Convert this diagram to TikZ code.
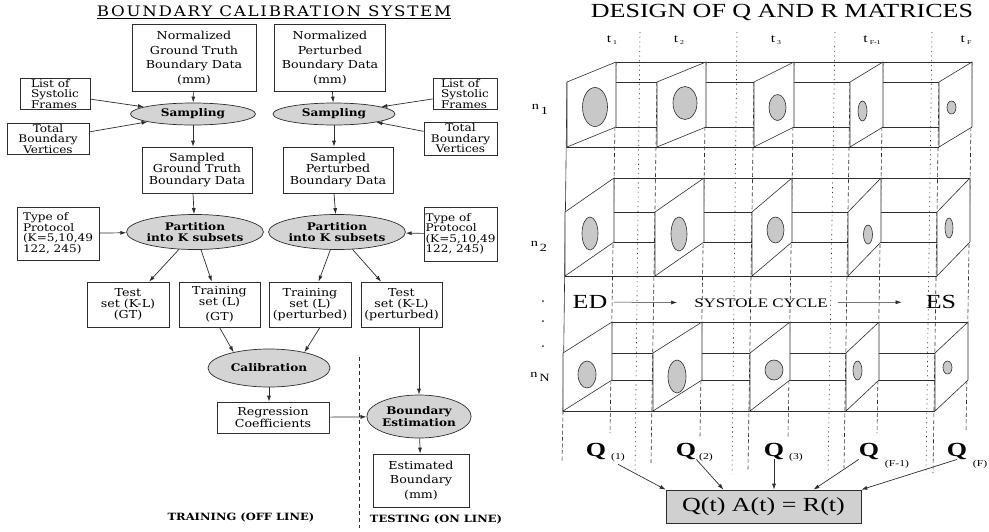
\documentclass[tikz,border=0pt]{standalone}
\usepackage{fontspec}
\usepackage{xcolor}
\usetikzlibrary{shapes.geometric,arrows.meta}
\newfontfamily\calfont[FakeStretch=1.15]{DejaVu Serif}
\newfontfamily\matfont[FakeStretch=1.3]{Liberation Serif}
\definecolor{inkGray}{RGB}{45,45,45}
\definecolor{ovalGray}{RGB}{212,212,212}
\definecolor{blobGray}{RGB}{200,200,200}
\definecolor{eqGray}{RGB}{208,208,208}
\tikzset{
  databox/.style={draw=inkGray, line width=0.7pt, fill=white, align=center, inner sep=1pt,
    font=\calfont\fontsize{11}{11.2}\selectfont},
  tallbox/.style={databox, font=\calfont\fontsize{11}{14.5}\selectfont},
  sidebox/.style={databox, align=left, font=\calfont\fontsize{10.5}{10.5}\selectfont},
  procoval/.style={ellipse, draw=inkGray, line width=0.7pt, fill=ovalGray, align=center, inner sep=0pt,
    font=\calfont\bfseries\fontsize{10.5}{11.5}\selectfont},
  flow/.style={->, line width=0.7pt, draw=inkGray},
  slab/.style={draw=inkGray, line width=0.6pt},
  depthline/.style={draw=inkGray, line width=0.6pt, dash pattern=on 4pt off 2.5pt},
  sepline/.style={draw=inkGray, line width=0.6pt, dash pattern=on 1.2pt off 3.5pt},
  blob/.style={draw=inkGray, line width=0.6pt, fill=blobGray},
  matlabel/.style={inner sep=0pt, font=\matfont\fontsize{12}{12}\selectfont},
  qlabel/.style={inner sep=0pt, font=\matfont\bfseries\fontsize{20}{20}\selectfont},
  qsub/.style={inner sep=0pt, font=\matfont\fontsize{9}{9}\selectfont},
}

\begin{document}
\begin{tikzpicture}[x=1pt, y=-1pt, >={Latex[length=6pt,width=4pt]}]
\useasboundingbox (0,0) rectangle (989,531);

% ---- boundary calibration system ----
\node[inner sep=0pt, font=\calfont\addfontfeatures{LetterSpace=12}\fontsize{14.5}{14.5}\selectfont] (caltitle) at (274,12) {\underline{BOUNDARY CALIBRATION SYSTEM}};

\node[tallbox, minimum width=124pt, minimum height=67pt] (normgt) at (194,58) {Normalized\\Ground Truth\\Boundary Data\\(mm)};
\node[tallbox, minimum width=111pt, minimum height=67pt] (normpt) at (330,58) {Normalized\\Perturbed\\Boundary Data\\(mm)};
\node[procoval, minimum width=125pt, minimum height=22pt] (sampgt) at (193,114) {Sampling};
\node[procoval, minimum width=122pt, minimum height=22pt] (samppt) at (334,114) {Sampling};
\node[sidebox, minimum width=70pt, minimum height=31pt] (framesgt) at (55,94) {List of\\Systolic\\Frames};
\node[sidebox, align=center, minimum width=82pt, minimum height=31pt] (vertsgt) at (48,139) {Total\\Boundary\\Vertices};
\node[sidebox, minimum width=64pt, minimum height=31pt] (framespt) at (465,94) {List of\\Systolic\\Frames};
\node[sidebox, align=center, minimum width=73pt, minimum height=33pt] (vertspt) at (460.5,138.5) {Total\\Boundary\\Vertices};
\node[databox, minimum width=110pt, minimum height=46pt] (sampledgt) at (197,170) {Sampled\\Ground Truth\\Boundary Data};
\node[databox, minimum width=110pt, minimum height=46pt] (sampledpt) at (338,170) {Sampled\\Perturbed\\Boundary Data};
\node[sidebox, minimum width=82pt, minimum height=53pt] (protgt) at (58,233.5) {Type of\\Protocol\\(K=5,10,49\\122, 245)};
\node[sidebox, minimum width=73pt, minimum height=54pt] (protpt) at (460.5,234) {Type of\\Protocol\\(K=5,10,49\\122, 245)};
\node[procoval, minimum width=134pt, minimum height=35pt] (partgt) at (195,232) {Partition\\into K subsets};
\node[procoval, minimum width=132pt, minimum height=35pt] (partpt) at (337,232) {Partition\\into K subsets};
\node[databox, minimum width=82pt, minimum height=45pt] (testgt) at (128,304.5) {Test\\set (K-L)\\(GT)};
\node[databox, minimum width=81pt, minimum height=45pt] (traingt) at (219.5,304.5) {Training\\set (L)\\[4pt](GT)};
\node[databox, minimum width=82pt, minimum height=45pt] (trainpt) at (310,304.5) {Training\\set (L)\\(perturbed)};
\node[databox, minimum width=81pt, minimum height=45pt] (testpt) at (401.5,304.5) {Test\\set (K-L)\\(perturbed)};
\node[procoval, minimum width=122pt, minimum height=38pt] (calib) at (269,368) {Calibration};
\node[databox, minimum width=112pt, minimum height=31pt] (regr) at (273,417.5) {Regression\\Coefficients};
\node[procoval, minimum width=102pt, minimum height=43pt] (bndest) at (419,416.5) {Boundary\\Estimation};
\node[tallbox, minimum width=96pt, minimum height=53pt] (estbnd) at (421,480.5) {Estimated\\Boundary\\(mm)};
\node[inner sep=0pt, font=\calfont\bfseries\fontsize{10}{10}\selectfont] (offline) at (241,517) {TRAINING (OFF LINE)};
\node[inner sep=0pt, font=\calfont\bfseries\fontsize{10}{10}\selectfont] (online) at (436,519) {TESTING (ON LINE)};
\draw[inkGray, line width=0.6pt, dash pattern=on 4pt off 3pt] (359,357) -- (359,528);

\draw[flow] (normgt) -- (sampgt);
\draw[flow] (normpt) -- (samppt);
\draw[flow] (framesgt) -- (sampgt);
\draw[flow] (vertsgt) -- (sampgt);
\draw[flow] (framespt) -- (samppt);
\draw[flow] (vertspt) -- (samppt);
\draw[flow] (sampgt.south) -- (sampgt.south |- sampledgt.north);
\draw[flow] (samppt.south) -- (samppt.south |- sampledpt.north);
\draw[flow] (sampgt.south |- sampledgt.south) -- (partgt);
\draw[flow] (samppt.south |- sampledpt.south) -- (partpt);
\draw[flow] (protgt) -- (partgt);
\draw[flow] (protpt) -- (partpt);
\draw[flow] (partgt) -- (testgt);
\draw[flow] (partgt) -- (traingt);
\draw[flow] (partpt) -- (trainpt);
\draw[flow] (partpt) -- (testpt);
\draw[flow] (traingt.south) -- (calib.156);
\draw[flow] ([xshift=10pt]trainpt.south) -- (calib.24);
\draw[flow] (calib.south) -- (calib.south |- regr.north);
\draw[flow] (regr) -- (bndest);
\draw[flow] (testpt.south -| bndest.north) -- (bndest.north);
\draw[flow] (bndest) -- (estbnd);

% ---- design of Q and R matrices ----
\node[inner sep=0pt, font=\matfont\fontsize{20}{20}\selectfont] (mattitle) at (782,12) {DESIGN OF Q AND R MATRICES};

\foreach \x/\sub/\name in {612/1/tone, 679/2/ttwo, 776/3/tthree, 872/{F-1}/tlast, 966/F/tfinal}
  \node[matlabel] (\name) at (\x,40) {t\,\raisebox{-1.5pt}{\fontsize{6}{6}\selectfont\sub}};

\foreach \xa/\xb in {640/635, 737/732, 835/828, 932/926}
  \draw[sepline] (\xa,32) -- (\xb,474);

\foreach \fx/\bx/\fe/\be in {657/706/463/437, 754/794/470/438, 850/883/468/433, 939/972/473/432}{
  \draw[depthline] (\fx,82) -- (\fx-6,\fe);
  \draw[depthline] (\bx,62) -- (\bx-6,\be);
}
\draw[depthline] (616,62) -- (610,433);
\draw[slab] (567,82) -- (563,411);
\draw[depthline] (563,411) -- (562,462);

\foreach \ft/\h/\d/\s in {82/65/20/0, 212/64/34/-2, 353/58/31/-4}{
  \begin{scope}[shift={(\s,0)}]
    \draw[slab] (567,\ft) -- (939,\ft) (567,\ft+\h) -- (939,\ft+\h);
    \draw[slab] (616,\ft-\d) -- (972,\ft-\d) (616,\ft-\d+\h) -- (972,\ft-\d+\h);
    \foreach \fx/\bx in {567/616, 657/706, 754/794, 850/883, 939/972}
      \draw[slab, fill=white] (\fx,\ft) -- (\bx,\ft-\d) -- (\bx,\ft-\d+\h) -- (\fx,\ft+\h) -- cycle;
  \end{scope}
}

\foreach \cx/\cy/\rx/\ry in {595/107/12.5/19.5, 685/103/12/16.5, 777.5/107.5/8.5/13, 862.5/111/4.5/10, 951.5/107.5/4.5/6.5,
    590/233.5/8/16.5, 679/234/8/17, 775.5/230/8.5/13, 868/234.5/4.5/9.5, 949/228/4/10,
    587/374.5/9/13.5, 677/376.5/9/16.5, 774/370/9/10, 857.5/370.5/4.5/9.5, 947.5/367.5/4.5/6.5}
  \draw[blob] (\cx,\cy) ellipse [x radius=\rx pt, y radius=\ry pt];

\node[matlabel, font=\matfont\fontsize{11}{11}\selectfont] (none) at (540,109) {n\,\raisebox{-5pt}{1}};
\node[matlabel, font=\matfont\fontsize{11}{11}\selectfont] (ntwo) at (539,246) {n\,\raisebox{-5pt}{2}};
\node[matlabel, font=\matfont\fontsize{11}{11}\selectfont] (nlast) at (540,377) {n\raisebox{-4pt}{\,N}};
\foreach \y in {301, 321, 346}
  \fill[inkGray] (543,\y) circle (1pt);

\node[inner sep=0pt, font=\matfont\fontsize{20}{20}\selectfont] (ed) at (590,302) {ED};
\node[inner sep=0pt, font=\matfont\fontsize{13}{13}\selectfont] (cycle) at (761,303) {SYSTOLE CYCLE};
\node[inner sep=0pt, font=\matfont\fontsize{20}{20}\selectfont] (es) at (941,302) {ES};
\draw[flow, line width=0.5pt, shorten <=6pt, shorten >=17pt] (ed) -- (cycle);
\draw[flow, line width=0.5pt, shorten <=10pt, shorten >=24pt] (cycle) -- (es);

\node[qlabel] (qone) at (596,451) {Q};
\node[qsub] (qonesub) at (618,457) {(1)};
\node[qlabel] (qtwo) at (686,451) {Q};
\node[qsub] (qtwosub) at (706,457) {(2)};
\node[qlabel] (qthree) at (774,451) {Q};
\node[qsub] (qthreesub) at (796,457) {(3)};
\node[qlabel] (qlast) at (869,451) {Q};
\node[qsub] (qlastsub) at (897,464) {(F-1)};
\node[qlabel] (qfinal) at (957,451) {Q};
\node[qsub] (qfinalsub) at (980,464) {(F)};

\node[draw=inkGray, fill=eqGray, line width=0.7pt, minimum width=195pt, minimum height=33pt, inner sep=0pt,
  font=\matfont\fontsize{20}{20}\selectfont] (eq) at (763.5,506.5) {Q(t) A(t) = R(t)};

\draw[flow] ([yshift=-3pt]qonesub.south) -- (eq.north west);
\draw[flow] (qtwo.south east) -- ([xshift=-40pt]eq.north);
\draw[flow] (qthree.south) -- (qthree.south |- eq.north);
\draw[flow] (qlast.south west) -- ([xshift=50pt]eq.north);
\draw[flow] (qfinal.south) -- (eq.north east);
\end{tikzpicture}
\end{document}
